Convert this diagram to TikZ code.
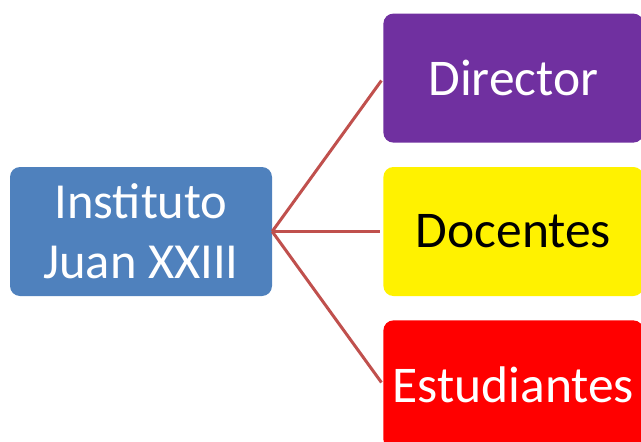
\documentclass[tikz,border=0pt]{standalone}
\usepackage{fontspec}
\setmainfont{Carlito}
\usetikzlibrary{positioning}

\definecolor{rootblue}{HTML}{4F81BD}
\definecolor{linkred}{HTML}{C0504D}
\definecolor{dirpurple}{HTML}{7030A0}

\tikzset{
	unitbox/.style={rounded corners=10pt, minimum width=260pt, minimum height=129pt, align=center, inner sep=0pt, text=white, font=\fontsize{51.5}{60}\selectfont},
	link/.style={linkred, line width=3pt, shorten >=3pt}
}

\begin{document}
\begin{tikzpicture}[x=1pt, y=-1pt]
	
	\useasboundingbox (0,0) rectangle (641,442);
	\clip (0,0) rectangle (641,442);
	
	\node [unitbox, fill=rootblue, minimum width=262pt, font=\fontsize{50.5}{60}\selectfont] at (141,231.5) (JXXIII) {Instituto\\Juan XXIII};
	\node [unitbox, fill=yellow, text=black, right=111pt of JXXIII] (DOC) {Docentes};
	\node [unitbox, fill=dirpurple, above=24pt of DOC] (DIR) {Director};
	\node [unitbox, fill=red, below=24pt of DOC] (EST) {Estudiantes};
	
	\draw [link] (JXXIII.east) -- (DIR.west);
	\draw [link] (JXXIII.east) -- (DOC.west);
	\draw [link] (JXXIII.east) -- (EST.west);
	
	\end{tikzpicture}
\end{document}
